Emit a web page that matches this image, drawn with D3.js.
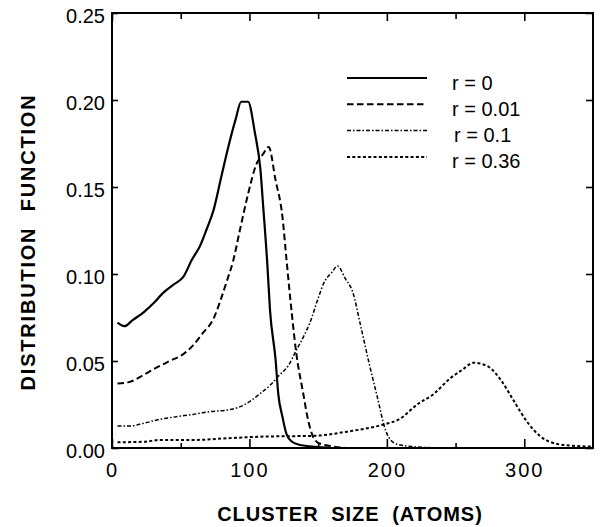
<!DOCTYPE html>
<html>
<head>
<meta charset="utf-8">
<script src="https://cdn.jsdelivr.net/npm/d3@7"></script>
<style>
  body { margin: 0; background: #fff; }
  svg { display: block; font-family: 'Liberation Sans', Arial, sans-serif; }
</style>
</head>
<body>
<div id="container"></div>
<script>
const w = 600
const h = 527
const margin = { top: 13, right: 7, bottom: 79, left: 112 }

// values
const xTicks = [0, 100, 200, 300]
const xMinor = [50, 150, 250]
const yTicks = [0, 0.05, 0.10, 0.15, 0.20, 0.25]

const labels = ['r = 0', 'r = 0.01', 'r = 0.1', 'r = 0.36']

const x0 = [4, 9, 15, 23, 30, 37, 45, 52, 58, 64, 69, 74, 79, 84, 90, 94, 99, 104, 108, 110, 113, 115, 119, 121, 124, 127, 131, 137, 144, 160]
const y0 = [0.072, 0.070, 0.0735, 0.078, 0.083, 0.089, 0.094, 0.0985, 0.108, 0.116, 0.126, 0.137, 0.154, 0.171, 0.189, 0.199, 0.199, 0.181, 0.160, 0.139, 0.106, 0.079, 0.051, 0.031, 0.018, 0.008, 0.0036, 0.0017, 0.001, 0]

const x01 = [4, 13, 23, 32, 42, 52, 59, 66, 74, 79, 84, 88, 93, 99, 105, 110, 114, 119, 124, 127, 131, 134, 139, 143, 146, 150, 160, 170]
const y01 = [0.037, 0.038, 0.042, 0.046, 0.050, 0.054, 0.059, 0.066, 0.0745, 0.085, 0.097, 0.107, 0.125, 0.146, 0.163, 0.169, 0.173, 0.154, 0.133, 0.108, 0.076, 0.055, 0.032, 0.015, 0.007, 0.003, 0.001, 0]

const x1 = [4, 13, 23, 35, 47, 59, 71, 84, 96, 108, 115, 122, 128, 134, 140, 144, 150, 154, 160, 164, 170, 175, 181, 187, 193, 199, 204, 210, 220, 240]
const y1 = [0.0126, 0.0126, 0.0142, 0.0165, 0.018, 0.0193, 0.0209, 0.0218, 0.0247, 0.0314, 0.036, 0.042, 0.047, 0.056, 0.065, 0.072, 0.086, 0.0946, 0.101, 0.1046, 0.097, 0.090, 0.070, 0.049, 0.0295, 0.0103, 0.0036, 0.0017, 0.0007, 0]

const x36 = [4, 23, 35, 59, 84, 108, 132, 147, 171, 195, 210, 222, 234, 246, 255, 263, 268, 274, 283, 292, 302, 312, 324, 335, 350]
const y36 = [0.0033, 0.0036, 0.0046, 0.0046, 0.0056, 0.0065, 0.0068, 0.007, 0.0094, 0.013, 0.017, 0.025, 0.031, 0.040, 0.045, 0.049, 0.0485, 0.0467, 0.039, 0.0276, 0.0151, 0.0065, 0.0023, 0.0013, 0.0008]

const series = [
  { name: labels[0], xs: x0, ys: y0, dash: null, width: 2.2 },
  { name: labels[1], xs: x01, ys: y01, dash: '6.5,3.5', width: 2 },
  { name: labels[2], xs: x1, ys: y1, dash: '4,2,1.5,2', width: 1.5 },
  { name: labels[3], xs: x36, ys: y36, dash: '3,2.3', width: 2 }
]

var svg = d3.select('div#container')
  .append('svg')
  .attr('width', w)
  .attr('height', h)

var x = d3.scaleLinear().domain([0, 350]).range([margin.left, w - margin.right])
var y = d3.scaleLinear().domain([0, 0.25]).range([h - margin.bottom, margin.top])

var fmt = d3.format('.2f')

// bottom axis, ticks pointing in
var bottomAxis = svg.append('g')
  .attr('transform', 'translate(0,' + y(0) + ')')
bottomAxis.call(d3.axisBottom(x).tickValues(xTicks).tickSize(-9).tickPadding(15).tickFormat(d3.format('d')))
bottomAxis.append('g').call(d3.axisBottom(x).tickValues(xMinor).tickSize(-5).tickFormat(''))

var topAxis = svg.append('g')
  .attr('transform', 'translate(0,' + y(0.25) + ')')
topAxis.call(d3.axisTop(x).tickValues(xTicks).tickSize(-8).tickFormat(''))
topAxis.append('g').call(d3.axisTop(x).tickValues(xMinor).tickSize(-6).tickFormat(''))

var leftAxis = svg.append('g')
  .attr('transform', 'translate(' + x(0) + ',0)')
leftAxis.call(d3.axisLeft(y).tickValues(yTicks).tickSize(-6).tickPadding(7).tickFormat(fmt))

var rightAxis = svg.append('g')
  .attr('transform', 'translate(' + x(350) + ',0)')
rightAxis.call(d3.axisRight(y).tickValues(yTicks).tickSize(-7).tickFormat(''))

svg.selectAll('.domain').remove()
svg.selectAll('.tick line').attr('stroke', '#000').attr('stroke-width', 1.6)

bottomAxis.selectAll('text')
  .style('font-size', '20px')
  .style('letter-spacing', '2px')
  .attr('fill', '#000')

leftAxis.selectAll('text')
  .style('font-size', '20px')
  .attr('dy', '0.48em')
  .attr('fill', '#000')

// frame
svg.append('rect')
  .attr('x', x(0))
  .attr('y', y(0.25))
  .attr('width', x(350) - x(0))
  .attr('height', y(0) - y(0.25))
  .attr('fill', 'none')
  .attr('stroke', '#000')
  .attr('stroke-width', 2)

var line = d3.line()
  .x(d => x(d[0]))
  .y(d => y(d[1]))
  .curve(d3.curveMonotoneX)

svg.append('g')
  .selectAll('path')
  .data(series)
  .enter().append('path')
  .attr('d', d => line(d3.zip(d.xs, d.ys)))
  .attr('fill', 'none')
  .attr('stroke', '#000')
  .attr('stroke-width', d => d.width)
  .attr('stroke-dasharray', d => d.dash)
  .attr('stroke-linejoin', 'round')

// legend
var legend = svg.append('g')
  .attr('transform', 'translate(347,78)')

var item = legend.selectAll('g')
  .data(series)
  .enter().append('g')
  .attr('transform', (d, i) => 'translate(0,' + (i * 26.3) + ')')

item.append('line')
  .attr('x1', 0)
  .attr('x2', 80)
  .attr('stroke', '#000')
  .attr('stroke-width', d => d.width)
  .attr('stroke-dasharray', d => d.dash)

item.append('text')
  .attr('x', (d, i) => i === 2 ? 107 : 105)
  .attr('y', 11.5)
  .style('font-size', '20px')
  .text(d => d.name)

// axis titles
svg.append('text')
  .attr('x', 350)
  .attr('y', 521)
  .attr('text-anchor', 'middle')
  .style('font-size', '20px')
  .style('font-weight', 'bold')
  .style('letter-spacing', '1px')
  .style('word-spacing', '6px')
  .text('CLUSTER SIZE (ATOMS)')

svg.append('text')
  .attr('transform', 'translate(35,242) rotate(-90)')
  .attr('text-anchor', 'middle')
  .style('font-size', '20px')
  .style('font-weight', 'bold')
  .style('letter-spacing', '1.8px')
  .style('word-spacing', '8px')
  .text('DISTRIBUTION FUNCTION')
</script>
</body>
</html>
